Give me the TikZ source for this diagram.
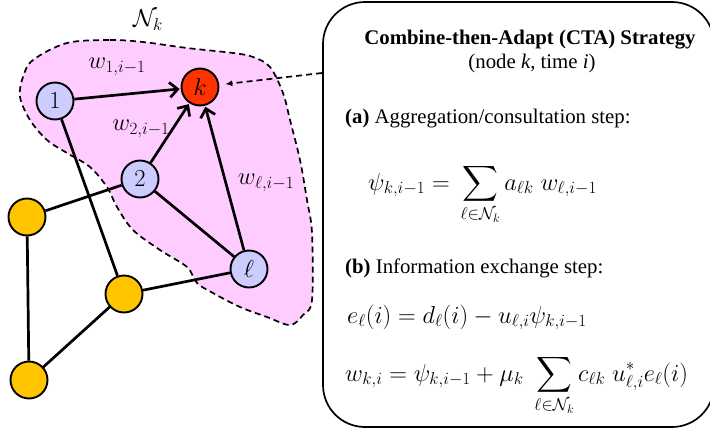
\RequirePackage{fix-cm}
\documentclass[tikz,border=0pt]{standalone}
\usepackage[no-math]{fontspec}
\setmainfont{Liberation Serif}
\usepackage{amsmath}
\usetikzlibrary{arrows.meta}
\definecolor{nodeblue}{RGB}{204,204,255}
\definecolor{nodered}{RGB}{255,51,0}
\definecolor{nodeyellow}{RGB}{255,198,0}
\definecolor{blobpink}{RGB}{255,204,255}
\newcommand{\mathsz}{\fontsize{24.5}{28}\selectfont}
\newcommand{\textsz}{\fontsize{20.8}{24}\selectfont}
\tikzset{
  vtx/.style={circle, draw=black, line width=1.9pt, minimum size=37pt, inner sep=0pt, font=\mathsz},
  bluev/.style={vtx, fill=nodeblue},
  redv/.style={vtx, fill=nodered},
  yelv/.style={vtx, fill=nodeyellow},
  link/.style={line width=2.7pt},
  darr/.style={line width=2.7pt, -{Straight Barb[length=8pt,width=15pt,line width=2.7pt]}, shorten >=1pt},
  blob/.style={fill=blobpink, draw=black, line width=1.7pt, dash pattern=on 6pt off 4pt},
  wlab/.style={font=\mathsz, inner sep=0pt},
  txt/.style={font=\textsz, anchor=west, inner sep=0pt},
  eqn/.style={font=\mathsz, anchor=west, inner sep=0pt},
}
\begin{document}
\begin{tikzpicture}[x=1pt,y=-1pt]
\useasboundingbox (0,0) rectangle (710,429);
% neighbourhood blob
\path[blob] plot[smooth cycle, tension=0.55] coordinates {
 (67,43) (110,40) (143,42) (187,48) (233,53) (253,57) (270,67) (283,93) (290,120)
 (300,160) (307,200) (312,233) (312,300) (303,315) (290,325) (267,317) (240,307)
 (213,293) (197,283) (187,267) (160,250) (133,230) (117,207) (107,187) (90,167)
 (67,153) (47,140) (30,120) (20,97) (23,77) (33,60)};
\node[wlab] (Nk) at (148,20) {$\mathcal{N}_k$};
% nodes
\node[bluev] (n1) at (55,101) {$1$};
\node[redv] (k) at (200,87) {$k$};
\node[bluev] (n2) at (140,179) {$2$};
\node[bluev] (l) at (249,269) {$\ell$};
\node[yelv] (y1) at (27,217) {};
\node[yelv] (y2) at (124,294) {};
\node[yelv] (y3) at (29,380) {};
% undirected links
\draw[link] (n1) -- (y2);
\draw[link] (n2) -- (y1);
\draw[link] (n2) -- (l);
\draw[link] (l) -- (y2);
\draw[link] (y1) -- (y3);
\draw[link] (y3) -- (y2);
% directed links
\draw[darr] (n1) -- (k);
\draw[darr] (n2) -- (k);
\draw[darr] (l) -- (k);
\node[wlab] (w1) at (117,67) {$w_{1,i-1}$};
\node[wlab] (w2) at (141,129) {$w_{2,i-1}$};
\node[wlab] (wl) at (266,183) {$w_{\ell,i-1}$};
% strategy box
\draw[line width=1.7pt, rounded corners=42pt] (323,2) rectangle (714,427);
\coordinate (bx) at (322,73);
\draw[line width=1.7pt, dash pattern=on 6pt off 4pt, -{Latex[length=7pt,width=6pt]}, shorten >=6pt] (bx) -- (k);
% box contents
\node[font=\textsz\bfseries, inner sep=0pt] (title) at (530,40) {Combine-then-Adapt (CTA) Strategy};
\node[font=\textsz, inner sep=0pt] (sub) at (532,63) {(node \textit{k}, time \textit{i})};
\node[txt] (a) at (345,119) {\textbf{(a)} Aggregation/consultation step:};
\node[eqn, anchor=base west] (eqa) at (368,190) {$\displaystyle \psi_{k,i-1} = \,\sum_{\ell\in\mathcal{N}_k} a_{\ell k}\; w_{\ell,i-1}$};
\node[txt] (b) at (345,268) {\textbf{(b)} Information exchange step:};
\node[eqn, anchor=base west] (eqb) at (347,323) {$e_\ell(i) = d_\ell(i) - u_{\ell,i}\psi_{k,i-1}$};
\node[eqn, anchor=base west] (eqc) at (345,381) {$\displaystyle w_{k,i} = \psi_{k,i-1} + \mu_k \;\sum_{\ell\in\mathcal{N}_k} c_{\ell k}\; u^*_{\ell,i} e_\ell(i)$};
\end{tikzpicture}
\end{document}
